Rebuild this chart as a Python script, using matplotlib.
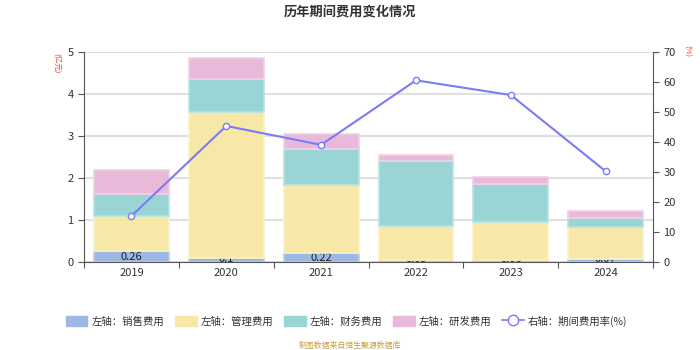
import matplotlib
matplotlib.use('Agg')
import matplotlib.pyplot as plt
from matplotlib.lines import Line2D
from matplotlib.patches import Patch
import numpy as np

plt.rcParams['font.family'] = ['Noto Sans CJK SC', 'DejaVu Sans']

# data
years = ['2019', '2020', '2021', '2022', '2023', '2024']
sales = [0.26, 0.10, 0.22, 0.05, 0.06, 0.07]
mgmt = [0.84, 3.48, 1.61, 0.81, 0.885, 0.76]
finance = [0.53, 0.78, 0.86, 1.54, 0.92, 0.22]
rnd = [0.56, 0.50, 0.36, 0.15, 0.17, 0.16]
rate = [15.4, 45.4, 39.1, 60.6, 55.7, 30.3]

series_names = ['左轴：销售费用', '左轴：管理费用', '左轴：财务费用', '左轴：研发费用']
colors = ['#9db8e3', '#f8e8a8', '#99d5d5', '#e8b9d9']
edges = ['#b8cdee', '#fbf1c4', '#b6e3e3', '#f0d0e6']
line_color = '#7b7bf5'

fig = plt.figure(figsize=(7, 3.5), dpi=100)
ax = fig.add_axes([0.12, 0.251, 0.813, 0.6])

x = np.arange(len(years))
width = 0.79
bottom = np.zeros(len(years))
for i, (vals, c, ec) in enumerate(zip([sales, mgmt, finance, rnd], colors, edges)):
    ax.bar(x, vals, width, bottom=bottom, color=c, edgecolor=ec, linewidth=1.2,
           zorder=2 if i == 0 else 3)
    bottom += np.array(vals)

# labels on the sales segment (partly hidden behind the next segment)
for xi, v in zip(x, sales):
    ax.text(xi, max(v / 2, 0.07), f'{v:g}', ha='center', va='center', fontsize=8,
            color='#222222', zorder=2.5, clip_on=False)

ax.set_xlim(-0.5, len(years) - 0.5)
ax.set_ylim(0, 5)
ax.set_yticks(range(0, 6))
ax.yaxis.grid(True, color='#e0e0e0', linewidth=1.5, zorder=0)
ax.set_axisbelow(True)

ax.set_xticks(np.arange(-0.5, len(years), 1))
ax.set_xticklabels([])
ax.set_xticks(x, minor=True)
ax.set_xticklabels(years, minor=True)
ax.tick_params(axis='x', which='minor', length=0, labelsize=8, colors='#333333', pad=4)
ax.tick_params(axis='x', which='major', length=4, color='#555555')
ax.tick_params(axis='y', length=4, color='#555555', labelsize=8, labelcolor='#333333')

for s in ['top', 'right']:
    ax.spines[s].set_visible(False)
ax.spines['left'].set_color('#555555')
ax.spines['bottom'].set_color('#555555')

ax2 = ax.twinx()
ax2.plot(x, rate, color=line_color, linewidth=1.5, marker='o', markersize=4.5,
         markerfacecolor='white', markeredgecolor=line_color, markeredgewidth=1)
ax2.set_ylim(0, 70)
ax2.set_yticks(range(0, 71, 10))
ax2.tick_params(axis='y', length=4, color='#555555', labelsize=8, labelcolor='#333333')
for s in ['top', 'left', 'bottom']:
    ax2.spines[s].set_visible(False)
ax2.spines['right'].set_color('#555555')

fig.text(0.5, 0.965, '历年期间费用变化情况', ha='center', va='center', fontsize=9.5,
         fontweight='bold', color='#333333')
fig.text(0.081, 0.82, '(亿元)', ha='center', va='center', fontsize=5.5, color='#ff3333',
         rotation=-90)
fig.text(0.981, 0.854, '(%)', ha='center', va='center', fontsize=5.5, color='#ff3333',
         rotation=-90)

handles = [Patch(facecolor=c, edgecolor=c) for c in colors]
handles.append(Line2D([0], [0], color=line_color, linewidth=1.2, marker='o', markersize=7.5,
                      markerfacecolor='white', markeredgecolor=line_color))
fig.legend(handles, series_names + ['右轴：期间费用率(%)'], loc='center', ncol=5,
           bbox_to_anchor=(0.495, 0.083), frameon=False, fontsize=7.5,
           handlelength=2.1, handleheight=1.05, columnspacing=1.0, handletextpad=0.4,
           labelcolor='#333333')

fig.text(0.5, 0.014, '制图数据来自恒生聚源数据库', ha='center', va='center', fontsize=5.7,
         color='#c8a040')

fig.savefig('out.png', dpi=100)
